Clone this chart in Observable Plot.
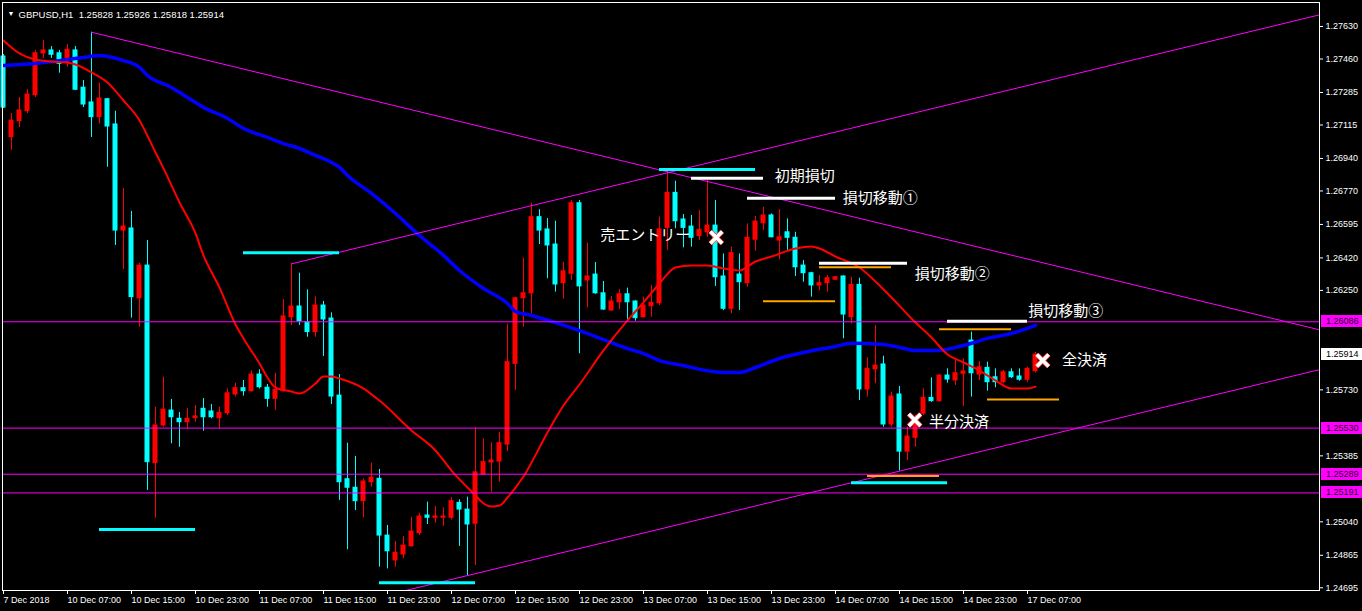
<!DOCTYPE html>
<html><head><meta charset="utf-8">
<script src="https://cdn.jsdelivr.net/npm/d3@7"></script>
<script src="https://cdn.jsdelivr.net/npm/@observablehq/plot@0.6"></script>
<style>html,body{margin:0;padding:0;background:#000;overflow:hidden}#chart{width:1362px;height:611px}</style>
</head><body><div id="chart"></div>
<script>
// ---- data: hourly GBPUSD candles, bar 0 = 7 Dec 2018 23:00 ----
const symbol = "GBPUSD,H1";
const open = [1.27473,1.27051,1.27135,1.27187,1.27271,1.27489,1.27505,1.27490,1.27438,1.27505,1.27310,1.27233,1.27156,1.27250,1.27118,1.26563,1.26574,1.26209,1.26380,1.25347,1.25544,1.25622,1.25579,1.25561,1.25582,1.25631,1.25617,1.25582,1.25608,1.25706,1.25739,1.25723,1.25810,1.25741,1.25683,1.25723,1.26110,1.26166,1.26084,1.26032,1.26171,1.26103,1.25700,1.25263,1.25218,1.25148,1.25247,1.25265,1.24968,1.24838,1.24869,1.24912,1.24981,1.25073,1.25061,1.25061,1.25061,1.25139,1.25104,1.25030,1.25287,1.25350,1.25355,1.25444,1.25866,1.26209,1.26235,1.26633,1.26569,1.26490,1.26288,1.26337,1.26706,1.26302,1.26333,1.26235,1.26145,1.26188,1.26230,1.26192,1.26110,1.26168,1.26183,1.26577,1.26760,1.26621,1.26584,1.26534,1.26554,1.26589,1.26323,1.26154,1.26333,1.26288,1.26515,1.26601,1.26642,1.26511,1.26554,1.26525,1.26380,1.26340,1.26276,1.26288,1.26306,1.26323,1.26110,1.26279,1.25732,1.25837,1.25863,1.25549,1.25706,1.25407,1.25479,1.25605,1.25688,1.25671,1.25805,1.25779,1.25814,1.25988,1.25810,1.25845,1.25796,1.25770,1.25822,1.25800,1.25783,1.25828];
const high = [1.27484,1.27175,1.27259,1.27301,1.27505,1.27557,1.27525,1.27505,1.27536,1.27525,1.27348,1.27600,1.27334,1.27254,1.27187,1.26783,1.26663,1.26391,1.26511,1.25639,1.25796,1.25680,1.25612,1.25632,1.25648,1.25685,1.25653,1.25639,1.25735,1.25765,1.25779,1.25828,1.25835,1.25758,1.25817,1.26202,1.26389,1.26340,1.26253,1.26215,1.26192,1.26133,1.25810,1.25451,1.25382,1.25265,1.25347,1.25314,1.25021,1.24937,1.24963,1.25064,1.25085,1.25143,1.25120,1.25113,1.25166,1.25155,1.25169,1.25532,1.25474,1.25453,1.25509,1.26074,1.26215,1.26418,1.26706,1.26672,1.26626,1.26612,1.26397,1.26720,1.26720,1.26497,1.26396,1.26297,1.26218,1.26255,1.26262,1.26196,1.26215,1.26276,1.26633,1.26877,1.26821,1.26647,1.26642,1.26668,1.26825,1.26720,1.26441,1.26476,1.26441,1.26598,1.26637,1.26685,1.26650,1.26672,1.26624,1.26554,1.26406,1.26345,1.26328,1.26328,1.26323,1.26326,1.26319,1.26314,1.25898,1.26067,1.25906,1.25718,1.25748,1.25535,1.25596,1.25735,1.25793,1.25810,1.25840,1.25887,1.25892,1.26032,1.25878,1.25875,1.25840,1.25831,1.25840,1.25840,1.25848,1.25926];
const low = [1.27201,1.26982,1.27102,1.27175,1.27259,1.27463,1.27463,1.27386,1.27417,1.27295,1.27206,1.27050,1.27121,1.26894,1.26485,1.26359,1.26105,1.26058,1.25204,1.25059,1.25535,1.25448,1.25430,1.25523,1.25561,1.25514,1.25579,1.25524,1.25596,1.25692,1.25697,1.25718,1.25735,1.25639,1.25622,1.25718,1.26067,1.26067,1.26005,1.26005,1.25904,1.25653,1.25152,1.24894,1.25099,1.25061,1.25221,1.24803,1.24794,1.24803,1.24847,1.24907,1.24968,1.25026,1.25033,1.25016,1.25050,1.24911,1.24759,1.24812,1.25282,1.25195,1.25247,1.25407,1.25727,1.26058,1.26128,1.26490,1.26311,1.26241,1.26204,1.26302,1.25919,1.26159,1.26230,1.26145,1.26140,1.26150,1.26089,1.26089,1.26105,1.26110,1.26171,1.26459,1.26572,1.26473,1.26476,1.26511,1.26528,1.26271,1.26145,1.26128,1.26145,1.26267,1.26455,1.26563,1.26525,1.26410,1.26459,1.26323,1.26293,1.26215,1.26249,1.26241,1.26302,1.25997,1.26075,1.25674,1.25692,1.25762,1.25535,1.25535,1.25305,1.25361,1.25430,1.25596,1.25665,1.25665,1.25765,1.25753,1.25643,1.25692,1.25779,1.25723,1.25741,1.25762,1.25790,1.25775,1.25770,1.25818];
const close = [1.27206,1.27138,1.27191,1.27274,1.27490,1.27505,1.27482,1.27435,1.27508,1.27299,1.27222,1.27156,1.27254,1.27107,1.26563,1.26584,1.26215,1.26380,1.25352,1.25544,1.25627,1.25587,1.25561,1.25579,1.25591,1.25587,1.25587,1.25610,1.25712,1.25739,1.25723,1.25810,1.25744,1.25683,1.25730,1.26114,1.26166,1.26089,1.26032,1.26171,1.26098,1.25695,1.25247,1.25218,1.25148,1.25251,1.25270,1.24968,1.24886,1.24878,1.24916,1.24989,1.25068,1.25061,1.25068,1.25068,1.25148,1.25104,1.25026,1.25299,1.25352,1.25361,1.25451,1.25875,1.26209,1.26235,1.26633,1.26563,1.26485,1.26281,1.26350,1.26706,1.26271,1.26323,1.26235,1.26150,1.26192,1.26230,1.26188,1.26105,1.26171,1.26185,1.26569,1.26760,1.26612,1.26577,1.26525,1.26567,1.26589,1.26319,1.26154,1.26445,1.26293,1.26525,1.26610,1.26642,1.26528,1.26528,1.26525,1.26371,1.26340,1.26276,1.26288,1.26314,1.26319,1.26124,1.26279,1.25732,1.25840,1.25857,1.25549,1.25695,1.25407,1.25486,1.25556,1.25688,1.25671,1.25805,1.25784,1.25817,1.25826,1.25817,1.25848,1.25770,1.25770,1.25822,1.25796,1.25783,1.25840,1.25914];

// moving averages (bar index, price)
const fastMABars = [0,2,4,6,8,9,11,13,15,17,19,20,22,24,25,27,29,30,32,33,34,36,37,39,40,41,42,45,47,51,54,56,59,60,61,62,63,65,68,70,72,75,78,80,82,84,86,88,90,92,94,96,99,101,102,104,107,109,111,114,116,118,120,122,124,126,128,129];
const fastMA = [1.27557,1.27489,1.27457,1.27447,1.27442,1.27431,1.27390,1.27337,1.27243,1.27139,1.26971,1.26888,1.26710,1.26548,1.26433,1.26265,1.26072,1.25999,1.25868,1.25795,1.25742,1.25721,1.25711,1.25763,1.25800,1.25800,1.25789,1.25737,1.25674,1.25518,1.25413,1.25308,1.25178,1.25136,1.25120,1.25125,1.25167,1.25277,1.25507,1.25648,1.25758,1.25936,1.26093,1.26187,1.26286,1.26370,1.26380,1.26380,1.26365,1.26354,1.26401,1.26427,1.26469,1.26480,1.26469,1.26427,1.26370,1.26297,1.26213,1.26082,1.26004,1.25915,1.25873,1.25831,1.25779,1.25737,1.25737,1.25747];
const slowMABars = [0,4,8,10,12,13,15,17,18,21,23,25,28,30,33,35,37,39,41,42,43,46,49,52,55,57,60,63,64,66,69,72,75,78,80,82,85,87,90,92,94,97,100,104,106,110,112,114,117,119,121,123,126,128,129];
const slowMA = [1.27426,1.27437,1.27457,1.27468,1.27478,1.27473,1.27452,1.27416,1.27374,1.27311,1.27259,1.27207,1.27149,1.27097,1.27050,1.27018,1.26992,1.26956,1.26919,1.26893,1.26851,1.26757,1.26652,1.26537,1.26433,1.26354,1.26260,1.26182,1.26140,1.26119,1.26082,1.26040,1.25993,1.25946,1.25920,1.25883,1.25857,1.25837,1.25821,1.25821,1.25847,1.25894,1.25925,1.25957,1.25974,1.25967,1.25952,1.25936,1.25936,1.25952,1.25974,1.25999,1.26025,1.26051,1.26067];

// axes (ticks hidden behind the level labels are left out)
const priceTicks = [1.27630,1.27460,1.27285,1.27115,1.26940,1.26770,1.26595,1.26420,1.26250,1.25730,1.25385,1.25040,1.24865,1.24695];
const timeTickBars = [0,8,16,24,32,40,48,56,64,72,80,88,96,104,112,120,128];
const timeTickLabels = ["7 Dec 2018","10 Dec 07:00","10 Dec 15:00","10 Dec 23:00","11 Dec 07:00","11 Dec 15:00","11 Dec 23:00","12 Dec 07:00","12 Dec 15:00","12 Dec 23:00","13 Dec 07:00","13 Dec 15:00","13 Dec 23:00","14 Dec 07:00","14 Dec 15:00","14 Dec 23:00","17 Dec 07:00"];

// horizontal price levels
const levels = [1.26086,1.25530,1.25289,1.25191];

// trend lines (bar, price anchors)
const trendDownBars = [11,164.5], trendDown = [1.27600,1.26044];
const trendUpHighBars = [36,164.5], trendUpHigh = [1.26389,1.27691];
const trendUpLowBars = [58,112], trendUpLow = [1.24759,1.25305];

// marked segments
const cyanFrom = [12,30,47,82,106], cyanTo = [24,42,59,94,118], cyanPrice = [1.25000,1.26447,1.24721,1.26882,1.25244];
const whiteFrom = [86,93,102,118], whiteTo = [95,104,113,128], whitePrice = [1.26837,1.26732,1.26392,1.26089];
const orangeFrom = [95,102,117,123,108], orangeTo = [104,111,126,132,117], orangePrice = [1.26194,1.26371,1.26047,1.25680,1.25279];

// annotations
const noteText = ["初期損切","損切移動①","売エントリー","損切移動②","損切移動③","全決済","半分決済"];
const noteBar = [96.4,104.9,74.6,113.9,128.1,132.3,115.7];
const notePrice = [1.26846,1.26731,1.26537,1.26333,1.26142,1.25886,1.25562];
const crossBar = [89.1,113.9,129.9];
const crossPrice = [1.26527,1.25572,1.25884];

// ---- build ----
const UP = "#ff0000", DOWN = "#00ffff";
const candles = open.map((o, i) => ({i, o, h: high[i], l: low[i], c: close[i]}));
const col = d => d.c >= d.o ? UP : DOWN;
const pts = (bars, vals) => bars.map((b, k) => ({b, v: vals[k]}));
const extend = (bars, vals, from, to) => {
  const s = (vals[1] - vals[0]) / (bars[1] - bars[0]);
  return [{b: from, v: vals[0] + s * (from - bars[0])}, {b: to, v: vals[0] + s * (to - bars[0])}];
};
const segs = (a, b, p) => a.map((x, k) => ({x1: a[k], x2: b[k], v: p[k]}));
const notes = noteText.map((t, k) => ({t, b: noteBar[k], v: notePrice[k]}));
const crosses = crossBar.map((b, k) => ({b, v: crossPrice[k]}));
const last = open.length - 1;
const title = `${symbol}\u00a0\u00a0${open[last].toFixed(5)} ${high[last].toFixed(5)} ${low[last].toFixed(5)} ${close[last].toFixed(5)}`;

const boxes = [
  ...levels.map(v => ({v, bg: "#ff00ff", fg: "#1a001a"})),
  {v: close[last], bg: "#ffffff", fg: "#000000"}
];
function priceBoxes(index, scales, values, dimensions) {
  const g = d3.create("svg:g").attr("text-anchor", "start");
  const xl = dimensions.width - dimensions.marginRight + 2;
  for (const b of boxes) {
    const y = Math.round(scales.y(b.v));
    g.append("rect").attr("x", xl).attr("y", y - 6).attr("width", 41).attr("height", 12).attr("fill", b.bg);
    g.append("text").attr("x", xl + 5).attr("y", y).attr("dy", "0.34em").attr("fill", b.fg)
      .attr("text-anchor", "start").attr("font-size", 9).attr("font-family", "Liberation Sans").text(b.v.toFixed(5));
  }
  return g.node();
}

const chart = Plot.plot({
  width: 1362, height: 611,
  marginLeft: 2, marginRight: 43, marginTop: 2, marginBottom: 21,
  style: {background: "#000", color: "#fff", fontFamily: "Liberation Sans", fontSize: "9px", overflow: "visible"},
  x: {type: "linear", domain: [-0.125, 164.5]},
  y: {domain: [1.246809, 1.277555]},
  marks: [
    Plot.ruleX(candles, {x: "i", y1: "l", y2: "h", stroke: col, strokeWidth: 1}),
    Plot.rect(candles, {x1: d => d.i - 0.3125, x2: d => d.i + 0.3125, y1: d => Math.min(d.o, d.c), y2: d => Math.max(d.o, d.c), fill: col, insetTop: -0.5, insetBottom: -0.5}),
    Plot.line(pts(slowMABars, slowMA), {x: "b", y: "v", stroke: "#0000ff", strokeWidth: 3.5, curve: "monotone-x"}),
    Plot.line(pts(fastMABars, fastMA), {x: "b", y: "v", stroke: "#ff0000", strokeWidth: 2, curve: "monotone-x"}),
    Plot.ruleY(levels, {stroke: "#ff00ff", strokeWidth: 1}),
    Plot.line(pts(trendDownBars, trendDown), {x: "b", y: "v", stroke: "#ff00ff", strokeWidth: 1, clip: true}),
    Plot.line(pts(trendUpHighBars, trendUpHigh), {x: "b", y: "v", stroke: "#ff00ff", strokeWidth: 1, clip: true}),
    Plot.line(extend(trendUpLowBars, trendUpLow, 40, 170), {x: "b", y: "v", stroke: "#ff00ff", strokeWidth: 1, clip: true}),
    Plot.ruleY(segs(cyanFrom, cyanTo, cyanPrice), {x1: "x1", x2: "x2", y: "v", stroke: "#00ffff", strokeWidth: 3}),
    Plot.ruleY(segs(whiteFrom, whiteTo, whitePrice), {x1: "x1", x2: "x2", y: "v", stroke: "#ffffff", strokeWidth: 3}),
    Plot.ruleY(segs(orangeFrom, orangeTo, orangePrice), {x1: "x1", x2: "x2", y: "v", stroke: "#ffa500", strokeWidth: 2}),
    Plot.text(notes, {x: "b", y: "v", text: "t", textAnchor: "start", fill: "#fff", fontSize: 15, fontFamily: "Noto Sans CJK JP"}),
    Plot.dot(crosses, {x: "b", y: "v", symbol: "times", r: 5.5, stroke: "#ff4040", strokeWidth: 5}),
    Plot.dot(crosses, {x: "b", y: "v", symbol: "times", r: 5.5, stroke: "#ffffff", strokeWidth: 3.5}),
    Plot.frame({stroke: "#fff"}),
    Plot.axisY({ticks: priceTicks, anchor: "right", tickFormat: d => d.toFixed(5), tickSize: 3, tickPadding: 3, label: null, fill: "#fff", stroke: "#fff"}),
    Plot.axisX({ticks: timeTickBars, anchor: "bottom", tickFormat: d => timeTickLabels[timeTickBars.indexOf(d)], tickSize: 4, tickPadding: 2, textAnchor: "start", label: null, fill: "#fff", stroke: "#fff"}),
    Plot.text([title], {frameAnchor: "top-left", dx: 16, dy: 9, textAnchor: "start", fill: "#fff", fontSize: 9.5}),
    Plot.text(["▼"], {frameAnchor: "top-left", dx: 5, dy: 9, textAnchor: "start", fill: "#fff", fontSize: 7}),
    priceBoxes
  ]
});
document.getElementById("chart").appendChild(chart);
</script>
</body></html>
